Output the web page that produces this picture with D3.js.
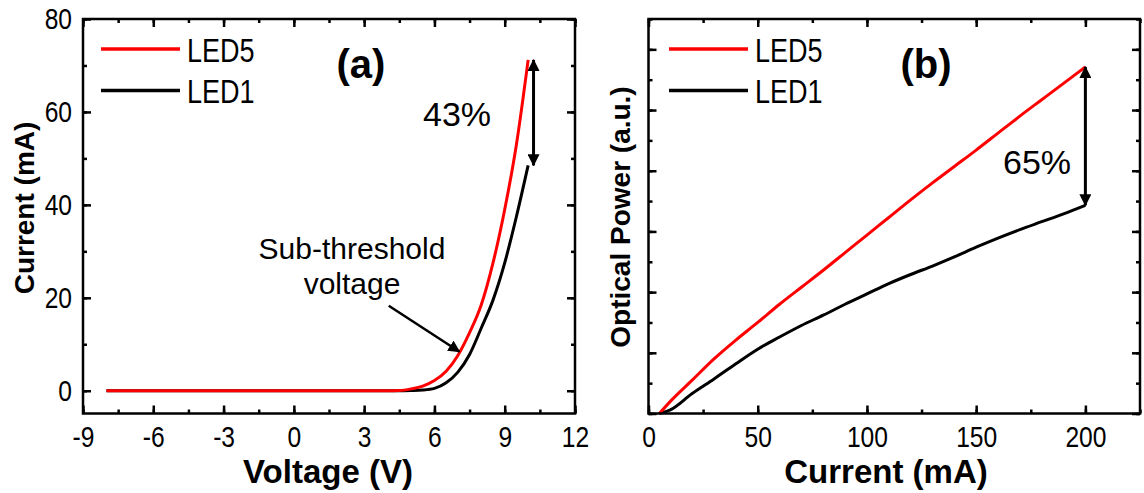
<!DOCTYPE html>
<html>
<head>
<meta charset="utf-8">
<script src="https://cdn.jsdelivr.net/npm/d3@7"></script>
<style>
  body { margin: 0; background: #fff; }
  svg { display: block; }
  .tick-label { font-family: "Liberation Sans", Arial, sans-serif; font-size: 30px; fill: #000; }
  .legend-label { font-family: "Liberation Sans", Arial, sans-serif; font-size: 33px; fill: #000; }
  .note { font-family: "Liberation Sans", Arial, sans-serif; fill: #000; }
  .title { font-family: "Liberation Sans", Arial, sans-serif; font-weight: bold; fill: #000; }
</style>
</head>
<body>
<svg width="1144" height="493"></svg>
<script>
// (a) I-V curves
const ivVoltage = [-8, -6, -4, -2, 0, 2, 4, 4.5, 5, 5.5, 6, 6.5, 7, 7.5, 8, 8.5, 9, 9.5, 10];
const ivLed5 = [0, 0, 0, 0, 0, 0, 0, 0.05, 0.4, 1.0, 2.2, 4.2, 7.6, 12.5, 18.5, 27.5, 39, 53, 71.2];
const ivLed1 = [0, 0, 0, 0, 0, 0, 0, 0, 0.05, 0.15, 0.5, 1.7, 4.0, 7.8, 13.5, 19.5, 27.5, 37.5, 48.5];
const ivXTicks = [-9, -6, -3, 0, 3, 6, 9, 12];
const ivYTicks = [0, 20, 40, 60, 80];

// (b) L-I curves
const liCurrent = [5, 10, 20, 30, 40, 50, 60, 70, 80, 90, 100, 110, 120, 130, 140, 150, 160, 170, 180, 190, 200];
const liLed5 = [0, 0.2, 0.55, 0.9, 1.21, 1.5, 1.8, 2.08, 2.36, 2.65, 2.94, 3.23, 3.52, 3.8, 4.07, 4.34, 4.62, 4.9, 5.17, 5.44, 5.71];
const liLed1 = [0, 0.06, 0.33, 0.57, 0.82, 1.06, 1.26, 1.45, 1.62, 1.8, 1.97, 2.14, 2.29, 2.43, 2.58, 2.74, 2.89, 3.03, 3.16, 3.29, 3.43];
const liXTicks = [0, 50, 100, 150, 200];
const liYTicks = [0, 1, 2, 3, 4, 5, 6];

const seriesNames = ["LED5", "LED1"];
const seriesColors = ["#ff0000", "#000000"];

// the original uses a condensed face; squeeze the regular one
const narrow = 0.82;

const svg = d3.select("svg");

const defs = svg.append("defs");
defs.append("marker")
    .attr("id", "head")
    .attr("viewBox", "0 0 12 12")
    .attr("markerUnits", "userSpaceOnUse")
    .attr("markerWidth", 12)
    .attr("markerHeight", 12)
    .attr("refX", 11)
    .attr("refY", 6)
    .attr("orient", "auto-start-reverse")
    .append("path")
    .attr("d", "M0,0 L12,6 L0,12 Z")
    .attr("fill", "#000");

const drawPanel = cfg => {
    const { left, right, top, bottom } = cfg.box;
    const x = d3.scaleLinear().domain(cfg.xDomain).range([left, right]);
    const y = d3.scaleLinear().domain(cfg.yDomain).range([bottom, top]);

    const g = svg.append("g");

    // curves (LED1 first so LED5 sits on top)
    const line = d3.line()
        .x(d => x(d[0]))
        .y(d => y(d[1]))
        .curve(d3.curveMonotoneX);

    [1, 0].forEach(idx => {
        g.append("path")
            .datum(cfg.xs.map((v, j) => [v, cfg.series[idx][j]]))
            .attr("fill", "none")
            .attr("stroke", seriesColors[idx])
            .attr("stroke-width", 3)
            .attr("stroke-linejoin", "round")
            .attr("d", line);
    });

    // axes, ticks pointing inward on all four sides
    const minorX = d3.range(cfg.xDomain[0], cfg.xDomain[1] + 1e-9, cfg.xMinor);
    const minorY = d3.range(cfg.yTicks[0], cfg.yDomain[1] + 1e-9, cfg.yMinor);

    const axisStyle = sel => {
        sel.select(".domain").remove();
        sel.selectAll(".tick line").attr("stroke", "#000").attr("stroke-width", 2.5);
        sel.selectAll(".tick text")
            .attr("class", "tick-label")
            .attr("font-family", null).attr("font-size", null)
            .attr("x", function() { return +d3.select(this).attr("x") / narrow; })
            .attr("transform", `scale(${narrow},1)`);
    };

    g.append("g").attr("transform", `translate(0,${bottom})`)
        .call(d3.axisBottom(x).tickValues(minorX).tickSize(-4).tickFormat(""))
        .call(axisStyle);
    g.append("g").attr("transform", `translate(0,${bottom})`)
        .call(d3.axisBottom(x).tickValues(cfg.xTicks).tickSize(-8).tickPadding(12).tickFormat(d => d < 0 ? "-" + Math.abs(d) : d))
        .call(axisStyle);
    g.append("g").attr("transform", `translate(0,${top})`)
        .call(d3.axisTop(x).tickValues(minorX).tickSize(-4).tickFormat(""))
        .call(axisStyle);
    g.append("g").attr("transform", `translate(0,${top})`)
        .call(d3.axisTop(x).tickValues(cfg.xTicks).tickSize(-8).tickFormat(""))
        .call(axisStyle);

    g.append("g").attr("transform", `translate(${left},0)`)
        .call(d3.axisLeft(y).tickValues(minorY).tickSize(-4).tickFormat(""))
        .call(axisStyle);
    g.append("g").attr("transform", `translate(${left},0)`)
        .call(d3.axisLeft(y).tickValues(cfg.yTicks).tickSize(-8).tickPadding(11)
            .tickFormat(cfg.yLabels ? d3.format("d") : ""))
        .call(axisStyle);
    g.append("g").attr("transform", `translate(${right},0)`)
        .call(d3.axisRight(y).tickValues(minorY).tickSize(-4).tickFormat(""))
        .call(axisStyle);
    g.append("g").attr("transform", `translate(${right},0)`)
        .call(d3.axisRight(y).tickValues(cfg.yTicks).tickSize(-8).tickFormat(""))
        .call(axisStyle);

    g.append("rect")
        .attr("x", left).attr("y", top)
        .attr("width", right - left).attr("height", bottom - top)
        .attr("fill", "none").attr("stroke", "#000").attr("stroke-width", 2.5);

    // axis titles
    g.append("text")
        .attr("class", "title")
        .attr("x", cfg.xTitleX)
        .attr("y", 483)
        .attr("text-anchor", "middle")
        .attr("font-size", 33)
        .text(cfg.xTitle);

    g.append("text")
        .attr("class", "title")
        .attr("transform", `translate(${cfg.yTitleX},${cfg.yTitleY}) rotate(-90)`)
        .attr("text-anchor", "middle")
        .attr("font-size", 28)
        .text(cfg.yTitle);

    // legend
    seriesNames.forEach((name, i) => {
        const ly = 49 + i * 41.5;
        g.append("line")
            .attr("x1", cfg.legendX).attr("x2", cfg.legendX + 79)
            .attr("y1", ly).attr("y2", ly)
            .attr("stroke", seriesColors[i]).attr("stroke-width", 3.5);
        g.append("text")
            .attr("class", "legend-label")
            .attr("transform", `translate(${cfg.legendX + 86},${ly + 12.5}) scale(${narrow},1)`)
            .text(name);
    });

    // panel tag
    g.append("text")
        .attr("class", "title")
        .attr("x", cfg.tagX)
        .attr("y", 78)
        .attr("text-anchor", "middle")
        .attr("font-size", 40)
        .text(cfg.tag);

    // double arrow between the two curves at the last point
    const last = cfg.xs.length - 1;
    g.append("line")
        .attr("x1", x(cfg.arrowX)).attr("x2", x(cfg.arrowX))
        .attr("y1", y(cfg.series[0][last])).attr("y2", y(cfg.series[1][last]))
        .attr("stroke", "#000").attr("stroke-width", 3)
        .attr("marker-start", "url(#head)")
        .attr("marker-end", "url(#head)");

    g.append("text")
        .attr("class", "note")
        .attr("x", cfg.pctX)
        .attr("y", cfg.pctY)
        .attr("text-anchor", "middle")
        .attr("font-size", 34)
        .text(cfg.pct);

    return { g, x, y };
};

const pa = drawPanel({
    box: { left: 83, right: 575, top: 19, bottom: 413.5 },
    xDomain: [-9, 12], yDomain: [-4.9, 80],
    xTicks: ivXTicks, yTicks: ivYTicks, xMinor: 1.5, yMinor: 10, yLabels: true,
    xs: ivVoltage, series: [ivLed5, ivLed1],
    xTitle: "Voltage (V)", xTitleX: 328,
    yTitle: "Current (mA)", yTitleX: 34, yTitleY: 208,
    legendX: 101, tag: "(a)", tagX: 361,
    arrowX: 10.23, pct: "43%", pctX: 457, pctY: 126
});

// sub-threshold annotation
pa.g.append("text").attr("class", "note").attr("font-size", 30)
    .attr("x", 352).attr("y", 259).attr("text-anchor", "middle").text("Sub-threshold");
pa.g.append("text").attr("class", "note").attr("font-size", 30)
    .attr("x", 352).attr("y", 294).attr("text-anchor", "middle").text("voltage");
pa.g.append("line")
    .attr("x1", pa.x(4.05)).attr("y1", pa.y(18.3))
    .attr("x2", pa.x(7.07)).attr("y2", pa.y(8.4))
    .attr("stroke", "#000").attr("stroke-width", 2.5)
    .attr("marker-end", "url(#head)");

drawPanel({
    box: { left: 648.5, right: 1140, top: 19, bottom: 413.5 },
    xDomain: [0, 225], yDomain: [0, 6.5],
    xTicks: liXTicks, yTicks: liYTicks, xMinor: 25, yMinor: 0.5, yLabels: false,
    xs: liCurrent, series: [liLed5, liLed1],
    xTitle: "Current (mA)", xTitleX: 886,
    yTitle: "Optical Power (a.u.)", yTitleX: 630, yTitleY: 217,
    legendX: 669, tag: "(b)", tagX: 926,
    arrowX: 200, pct: "65%", pctX: 1037, pctY: 174
});
</script>
</body>
</html>
